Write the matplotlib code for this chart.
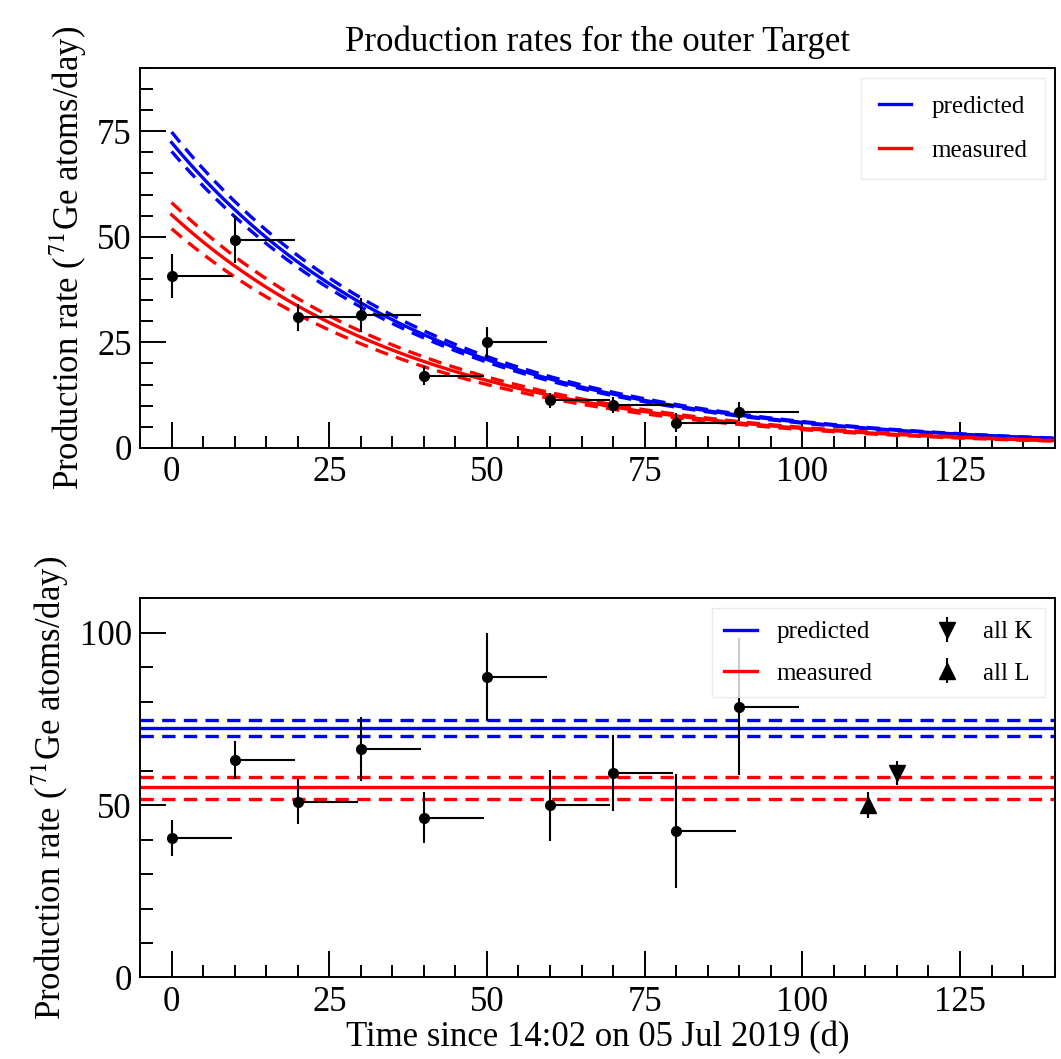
import numpy as np
import matplotlib
matplotlib.use('Agg')
import matplotlib.pyplot as plt
from matplotlib.ticker import MultipleLocator

plt.rcParams['font.family'] = ['Liberation Serif', 'DejaVu Serif']
plt.rcParams['mathtext.fontset'] = 'stix'

# rates per 10-day bin (start of bin), raw and decay corrected
t_bins = [0, 10, 20, 30, 40, 50, 60, 70, 80, 90]
bin_width = 9.5
rate_raw = [40.7, 49.3, 30.9, 31.4, 17.1, 25.0, 11.3, 10.1, 6.0, 8.6]
rate_raw_err = [5.2, 5.5, 3.2, 4.0, 2.3, 3.6, 1.8, 1.9, 2.3, 2.2]
rate_corr = [40.5, 63.2, 51.0, 66.2, 46.4, 87.1, 50.0, 59.3, 42.4, 78.6]
rate_corr_err = [5.2, 5.5, 6.5, 9.3, 7.5, 12.7, 10.3, 11.0, 16.5, 20.0]

# combined K and L shell results
t_K, rate_K, err_K = [115], [59.3], [3.5]
t_L, rate_L, err_L = [110.4], [50.0], [3.7]

# production rate at t=0: central value, upper, lower
pred_rate = [72.3, 74.8, 70.2]
meas_rate = [55.2, 58.1, 51.9]
decay_const = 0.0248  # 1/day

t = np.linspace(0, 140, 400)
dash = (0, (4, 2.5))

fig = plt.figure(figsize=(10.61, 10.59), dpi=100)
ax1 = fig.add_axes([0.132, 0.577, 0.862, 0.359])
ax2 = fig.add_axes([0.132, 0.077, 0.862, 0.358])

# top: time dependent rates
for rates, col, lab in [(pred_rate, 'blue', 'predicted'), (meas_rate, 'red', 'measured')]:
    ax1.plot(t, rates[0] * np.exp(-decay_const * t), color=col, lw=2.4, label=lab)
    ax1.plot(t, rates[1] * np.exp(-decay_const * t), color=col, lw=2.4, ls=dash)
    ax1.plot(t, rates[2] * np.exp(-decay_const * t), color=col, lw=2.4, ls=dash)
n = len(t_bins)
ax1.errorbar(t_bins, rate_raw, yerr=rate_raw_err, xerr=[[0] * n, [bin_width] * n],
             fmt='o', color='black', ms=7, elinewidth=1.5, capsize=0, zorder=5)
ax1.set_xlim(-5, 140)
ax1.set_ylim(0, 90)
ax1.set_title('Production rates for the outer Target', fontsize=25, pad=12)
ax1.legend(loc='upper right', fontsize=18, frameon=True, edgecolor='#e6e6e6',
           fancybox=False, handlelength=1.3, handletextpad=0.8, borderpad=0.7,
           labelspacing=0.85, borderaxespad=0.4)

# bottom: rates corrected back to t=0
for rates, col, lab in [(pred_rate, 'blue', 'predicted'), (meas_rate, 'red', 'measured')]:
    ax2.axhline(rates[0], color=col, lw=2.4, label=lab)
    ax2.axhline(rates[1], color=col, lw=2.4, ls=dash)
    ax2.axhline(rates[2], color=col, lw=2.4, ls=dash)
ax2.errorbar(t_bins, rate_corr, yerr=rate_corr_err, xerr=[[0] * n, [bin_width] * n],
             fmt='o', color='black', ms=7, elinewidth=1.5, capsize=0, zorder=5)
ax2.errorbar(t_K, rate_K, yerr=err_K, fmt='v', color='black', ms=11,
             elinewidth=1.5, capsize=0, label='all K', zorder=5)
ax2.errorbar(t_L, rate_L, yerr=err_L, fmt='^', color='black', ms=11,
             elinewidth=1.5, capsize=0, label='all L', zorder=5)
ax2.set_xlim(-5, 140)
ax2.set_ylim(0, 110)
ax2.set_xlabel('Time since 14:02 on 05 Jul 2019 (d)', fontsize=25, labelpad=2)
ax2.legend(loc='upper right', ncol=2, fontsize=18, frameon=True, edgecolor='#e6e6e6',
           fancybox=False, handlelength=1.3, handletextpad=0.8, borderpad=0.5,
           labelspacing=0.75, columnspacing=2.3, borderaxespad=0.4)

ylab = r'Production rate ($^{71}$Ge atoms/day)'
for ax, ymaj, ymin in [(ax1, 25, 5), (ax2, 50, 10)]:
    ax.set_ylabel(ylab, fontsize=25, labelpad=6)
    ax.xaxis.set_major_locator(MultipleLocator(25))
    ax.xaxis.set_minor_locator(MultipleLocator(5))
    ax.yaxis.set_major_locator(MultipleLocator(ymaj))
    ax.yaxis.set_minor_locator(MultipleLocator(ymin))
    ax.tick_params(which='both', direction='in', top=False, right=False,
                   labelsize=25, width=1.4)
    ax.tick_params(which='major', length=19, pad=6)
    ax.tick_params(which='minor', length=9)
    for s in ax.spines.values():
        s.set_linewidth(1.4)

fig.savefig('out.png', dpi=100)
